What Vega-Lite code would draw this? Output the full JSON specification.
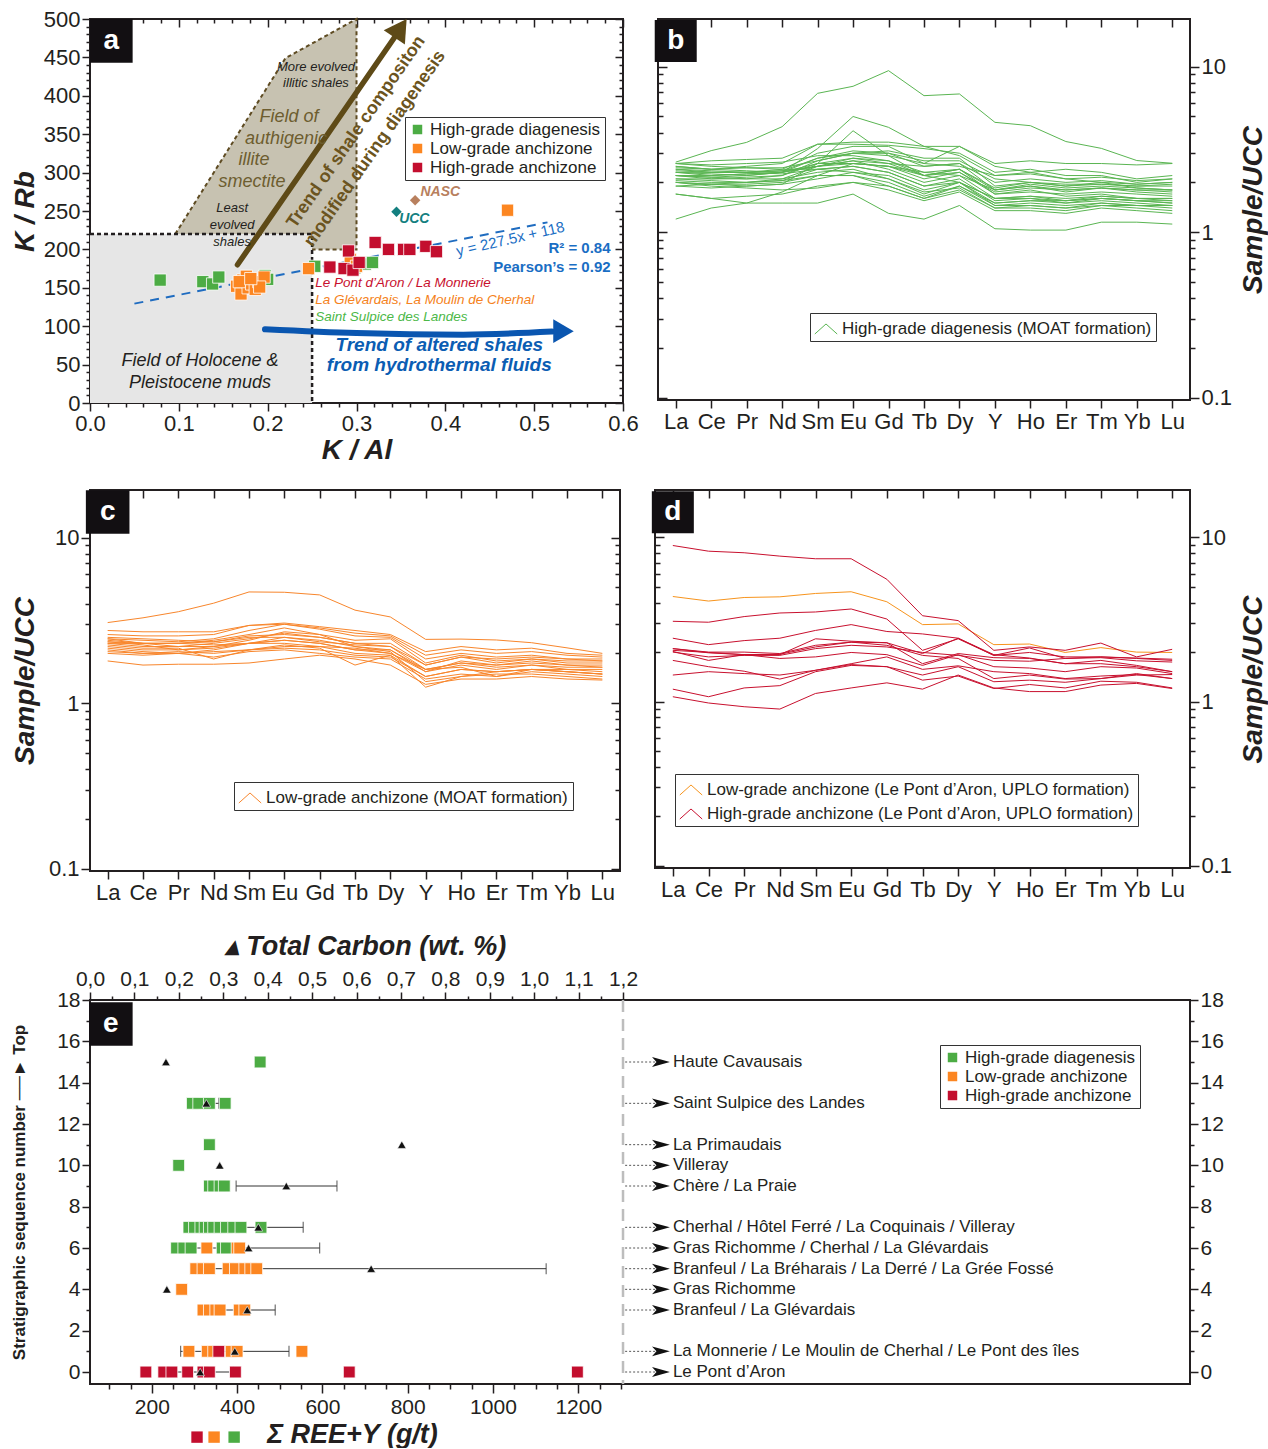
{
"$schema":"https://vega.github.io/schema/vega-lite/v6.json",
"padding":{"left":9,"top":7,"right":0,"bottom":0},
"background":"white",
"config":{"font":"Liberation Sans","view":{"stroke":"#231f20","strokeWidth":2},
"axis":{"domain":false,"grid":false,"labelFontSize":22,"labelColor":"#231f20","tickColor":"#231f20","tickWidth":1.5,"titleColor":"#231f20","labelFlush":false,"labelOverlap":false,"labelFont":"Liberation Sans","titleFont":"Liberation Sans"},
"legend":{"labelFont":"Liberation Sans","labelColor":"#231f20","labelFontSize":17,"strokeColor":"#333","fillColor":"white","padding":4,"title":null,"labelLimit":600},
"text":{"font":"Liberation Sans"}},
"spacing":27,
"resolve":{"scale":{"color":"independent"}},
"vconcat":[
{"vconcat":[
{"hconcat":[
{"width":533,"height":384,
"resolve":{"axis":{"x":"independent","y":"independent"},"scale":{"color":"independent"}},
"layer":[
{"data":{"values":[{"x":0.096,"y":220,"y2":200},{"x":0.22,"y":449,"y2":200},{"x":0.3,"y":500,"y2":200}]},
"mark":{"type":"area","color":"#c7c2b1","opacity":1},
"encoding":{"x":{"field":"x","type":"quantitative","scale":{"domain":[0,0.6],"nice":false,"zero":false},"axis":null},"y":{"field":"y","type":"quantitative","scale":{"domain":[0,500],"nice":false,"zero":false},"axis":null},"y2":{"field":"y2"}}},
{"data":{"values":[{"x":0,"x2":0.25,"y":0,"y2":220}]},
"mark":{"type":"rect","color":"#e6e6e6","opacity":1},
"encoding":{"x":{"field":"x","type":"quantitative","scale":{"domain":[0,0.6],"nice":false,"zero":false},"axis":null},"x2":{"field":"x2"},"y":{"field":"y","type":"quantitative","scale":{"domain":[0,500],"nice":false,"zero":false},"axis":null},"y2":{"field":"y2"}}},
{"data":{"values":[{"o":1,"x":0.096,"y":220},{"o":2,"x":0.22,"y":449},{"o":3,"x":0.3,"y":500},{"o":4,"x":0.3,"y":200},{"o":5,"x":0.25,"y":200}]},
"mark":{"type":"line","color":"#5e4b22","strokeDash":[4,3],"strokeWidth":2},
"encoding":{"x":{"field":"x","type":"quantitative","scale":{"domain":[0,0.6],"nice":false,"zero":false},"axis":null},"y":{"field":"y","type":"quantitative","scale":{"domain":[0,500],"nice":false,"zero":false},"axis":null},"order":{"field":"o"}}},
{"data":{"values":[{"o":1,"x":0,"y":220},{"o":2,"x":0.25,"y":220},{"o":3,"x":0.25,"y":0}]},
"mark":{"type":"line","color":"#231f20","strokeDash":[4,3],"strokeWidth":2.5},
"encoding":{"x":{"field":"x","type":"quantitative","scale":{"domain":[0,0.6],"nice":false,"zero":false},"axis":null},"y":{"field":"y","type":"quantitative","scale":{"domain":[0,500],"nice":false,"zero":false},"axis":null},"order":{"field":"o"}}},
{"data":{"values":[{"x":0.05,"y":129.4},{"x":0.515,"y":235.2}]},
"mark":{"type":"line","color":"#1f6cc0","strokeDash":[9,7],"strokeWidth":2},
"encoding":{"x":{"field":"x","type":"quantitative","scale":{"domain":[0,0.6],"nice":false,"zero":false},"axis":null},"y":{"field":"y","type":"quantitative","scale":{"domain":[0,500],"nice":false,"zero":false},"axis":null}}},
{"data":{"values":[{"x":0.166,"y":180},{"x":0.347,"y":483}]},
"mark":{"type":"line","color":"#5e4a17","strokeWidth":5.5,"strokeCap":"round"},
"encoding":{"x":{"field":"x","type":"quantitative","scale":{"domain":[0,0.6],"nice":false,"zero":false},"axis":null},"y":{"field":"y","type":"quantitative","scale":{"domain":[0,500],"nice":false,"zero":false},"axis":null}}},
{"data":{"values":[{"x":0.3495,"y":488}]},
"mark":{"type":"point","shape":"triangle-up","filled":true,"opacity":1,"size":650,"color":"#5e4a17","angle":34},
"encoding":{"x":{"field":"x","type":"quantitative","scale":{"domain":[0,0.6],"nice":false,"zero":false},"axis":null},"y":{"field":"y","type":"quantitative","scale":{"domain":[0,500],"nice":false,"zero":false},"axis":null}}},
{"data":{"values":[{"o":1,"x":0.197,"y":96},{"o":2,"x":0.3,"y":91},{"o":3,"x":0.42,"y":89},{"o":4,"x":0.52,"y":93}]},
"mark":{"type":"line","color":"#0a56b0","strokeWidth":6,"interpolate":"monotone","strokeCap":"round"},
"encoding":{"x":{"field":"x","type":"quantitative","scale":{"domain":[0,0.6],"nice":false,"zero":false},"axis":null},"y":{"field":"y","type":"quantitative","scale":{"domain":[0,500],"nice":false,"zero":false},"axis":null},"order":{"field":"o"}}},
{"data":{"values":[{"x":0.533,"y":93.5}]},
"mark":{"type":"point","shape":"triangle-right","filled":true,"opacity":1,"size":560,"color":"#0a56b0"},
"encoding":{"x":{"field":"x","type":"quantitative","scale":{"domain":[0,0.6],"nice":false,"zero":false},"axis":null},"y":{"field":"y","type":"quantitative","scale":{"domain":[0,500],"nice":false,"zero":false},"axis":null}}},
{"data":{"values":[
{"x":0.079,"y":160,"g":"G"},{"x":0.127,"y":158,"g":"G"},{"x":0.138,"y":155,"g":"G"},{"x":0.145,"y":164,"g":"G"},{"x":0.18,"y":161,"g":"G"},{"x":0.19,"y":158,"g":"G"},{"x":0.197,"y":166,"g":"G"},{"x":0.2,"y":161,"g":"G"},{"x":0.185,"y":157,"g":"G"},{"x":0.253,"y":178,"g":"G"},{"x":0.31,"y":181,"g":"G"},{"x":0.318,"y":183,"g":"G"},{"x":0.298,"y":176,"g":"G"},
{"x":0.165,"y":152,"g":"O"},{"x":0.17,"y":142,"g":"O"},{"x":0.172,"y":160,"g":"O"},{"x":0.176,"y":165,"g":"O"},{"x":0.178,"y":150,"g":"O"},{"x":0.182,"y":155,"g":"O"},{"x":0.186,"y":148,"g":"O"},{"x":0.19,"y":158,"g":"O"},{"x":0.196,"y":164,"g":"O"},{"x":0.191,"y":151,"g":"O"},{"x":0.168,"y":158,"g":"O"},{"x":0.181,"y":162,"g":"O"},{"x":0.246,"y":175,"g":"O"},{"x":0.293,"y":187,"g":"O"},{"x":0.3,"y":178,"g":"O"},{"x":0.47,"y":251,"g":"O"},
{"x":0.27,"y":177,"g":"R"},{"x":0.286,"y":175,"g":"R"},{"x":0.296,"y":173,"g":"R"},{"x":0.291,"y":198,"g":"R"},{"x":0.303,"y":183,"g":"R"},{"x":0.321,"y":209,"g":"R"},{"x":0.336,"y":200,"g":"R"},{"x":0.353,"y":200,"g":"R"},{"x":0.36,"y":200,"g":"R"},{"x":0.378,"y":204,"g":"R"},{"x":0.39,"y":197,"g":"R"}]},
"mark":{"type":"square","size":150,"filled":true,"opacity":1,"stroke":"white","strokeWidth":0.8},
"encoding":{
"x":{"field":"x","type":"quantitative","scale":{"domain":[0,0.6],"nice":false,"zero":false},"axis":{"orient":"bottom","values":[0,0.02,0.04,0.06,0.08,0.1,0.12,0.14,0.16,0.18,0.2,0.22,0.24,0.26,0.28,0.3,0.32,0.34,0.36,0.38,0.4,0.42,0.44,0.46,0.48,0.5,0.52,0.54,0.56,0.58,0.6],"labelExpr":"round(datum.value*50)%5===0 ? format(datum.value,'.1f') : ''","tickSize":{"condition":{"test":"round(datum.value*50)%5===0","value":8},"value":4},"labelPadding":2,"title":"K / Al","titleFontSize":28,"titleFontWeight":"bold","titleFontStyle":"italic","titlePadding":2}},
"y":{"field":"y","type":"quantitative","scale":{"domain":[0,500],"nice":false,"zero":false},"axis":{"orient":"left","values":[0,10,20,30,40,50,60,70,80,90,100,110,120,130,140,150,160,170,180,190,200,210,220,230,240,250,260,270,280,290,300,310,320,330,340,350,360,370,380,390,400,410,420,430,440,450,460,470,480,490,500],"labelExpr":"datum.value%50===0 ? datum.label : ''","format":"d","tickSize":{"condition":{"test":"datum.value%50===0","value":8},"value":4},"labelPadding":2,"title":"K / Rb","titleFontSize":28,"titleFontWeight":"bold","titleFontStyle":"italic","titlePadding":4}},
"color":{"field":"g","type":"nominal","scale":{"domain":["G","O","R"],"range":["#4cac44","#fc8621","#c30e2e"]},"legend":{"orient":"none","legendX":315,"legendY":98,"symbolType":"square","symbolSize":120,"labelFontSize":17,"rowPadding":1,"labelExpr":"datum.label=='G' ? 'High-grade diagenesis' : datum.label=='O' ? 'Low-grade anchizone' : 'High-grade anchizone'"}}}},
{"data":{"values":[{"x":0.366,"y":264,"n":"NASC"},{"x":0.345,"y":249,"n":"UCC"}]},
"mark":{"type":"point","shape":"diamond","filled":true,"opacity":1,"size":110},
"encoding":{"x":{"field":"x","type":"quantitative","scale":{"domain":[0,0.6],"nice":false,"zero":false},"axis":null},"y":{"field":"y","type":"quantitative","scale":{"domain":[0,500],"nice":false,"zero":false},"axis":null},"color":{"field":"n","type":"nominal","scale":{"domain":["NASC","UCC"],"range":["#b8805e","#137f7f"]},"legend":null}}},
{"data":{"values":[{"x":0.372,"y":275,"n":"NASC"},{"x":0.348,"y":239.6,"n":"UCC"}]},
"mark":{"type":"text","align":"left","baseline":"middle","fontSize":14,"fontWeight":"bold","fontStyle":"italic"},
"encoding":{"x":{"field":"x","type":"quantitative","scale":{"domain":[0,0.6],"nice":false,"zero":false},"axis":null},"y":{"field":"y","type":"quantitative","scale":{"domain":[0,500],"nice":false,"zero":false},"axis":null},"text":{"field":"n"},"color":{"field":"n","type":"nominal","scale":{"domain":["NASC","UCC"],"range":["#b8805e","#137f7f"]},"legend":null}}},
{"data":{"values":[{"x":0.2535,"y":156,"t":"Le Pont d’Aron / La Monnerie","g":"R"},{"x":0.2535,"y":134,"t":"La Glévardais, La Moulin de Cherhal","g":"O"},{"x":0.2535,"y":112,"t":"Saint Sulpice des Landes","g":"G"}]},
"mark":{"type":"text","align":"left","baseline":"middle","fontSize":13.5,"fontStyle":"italic","font":"Liberation Sans Narrow, Liberation Sans"},
"encoding":{"x":{"field":"x","type":"quantitative","scale":{"domain":[0,0.6],"nice":false,"zero":false},"axis":null},"y":{"field":"y","type":"quantitative","scale":{"domain":[0,500],"nice":false,"zero":false},"axis":null},"text":{"field":"t"},"color":{"field":"g","type":"nominal","scale":{"domain":["G","O","R"],"range":["#4cb848","#f58220","#c8102e"]},"legend":null}}},
{"data":{"values":[{"x":0.2544,"y":437.5,"t":"More evolved"},{"x":0.2544,"y":416.7,"t":"illitic shales"},{"x":0.16,"y":254,"t":"Least"},{"x":0.16,"y":232,"t":"evolved"},{"x":0.16,"y":210,"t":"shales"}]},
"mark":{"type":"text","align":"center","baseline":"middle","fontSize":13,"fontStyle":"italic","color":"#231f20","font":"Liberation Sans Narrow, Liberation Sans"},
"encoding":{"x":{"field":"x","type":"quantitative","scale":{"domain":[0,0.6],"nice":false,"zero":false},"axis":null},"y":{"field":"y","type":"quantitative","scale":{"domain":[0,500],"nice":false,"zero":false},"axis":null},"text":{"field":"t"}}},
{"data":{"values":[{"x":0.224,"y":372,"t":"Field of"},{"x":0.2206,"y":344,"t":"authigenic"},{"x":0.1846,"y":316,"t":"illite"},{"x":0.1824,"y":288,"t":"smectite"}]},
"mark":{"type":"text","align":"center","baseline":"middle","fontSize":18,"fontStyle":"italic","color":"#6d5d2f","font":"Liberation Sans Narrow, Liberation Sans"},
"encoding":{"x":{"field":"x","type":"quantitative","scale":{"domain":[0,0.6],"nice":false,"zero":false},"axis":null},"y":{"field":"y","type":"quantitative","scale":{"domain":[0,500],"nice":false,"zero":false},"axis":null},"text":{"field":"t"}}},
{"data":{"values":[{"x":0.1238,"y":55,"t":"Field of Holocene &"},{"x":0.1238,"y":26,"t":"Pleistocene muds"}]},
"mark":{"type":"text","align":"center","baseline":"middle","fontSize":18,"fontStyle":"italic","color":"#231f20","font":"Liberation Sans Narrow, Liberation Sans"},
"encoding":{"x":{"field":"x","type":"quantitative","scale":{"domain":[0,0.6],"nice":false,"zero":false},"axis":null},"y":{"field":"y","type":"quantitative","scale":{"domain":[0,500],"nice":false,"zero":false},"axis":null},"text":{"field":"t"}}},
{"data":{"values":[{"x":0.2997,"y":353,"t":"Trend of  shale compositon"},{"x":0.3208,"y":331,"t":"modified during diagenesis"}]},
"mark":{"type":"text","align":"center","baseline":"middle","fontSize":18,"fontWeight":"bold","color":"#6b5420","angle":304.7,"font":"Liberation Sans Narrow, Liberation Sans"},
"encoding":{"x":{"field":"x","type":"quantitative","scale":{"domain":[0,0.6],"nice":false,"zero":false},"axis":null},"y":{"field":"y","type":"quantitative","scale":{"domain":[0,500],"nice":false,"zero":false},"axis":null},"text":{"field":"t"}}},
{"data":{"values":[{"x":0.4732,"y":213.5,"t":"y = 227.5x + 118"}]},
"mark":{"type":"text","align":"center","baseline":"middle","fontSize":15,"color":"#1a6ec4","angle":347},
"encoding":{"x":{"field":"x","type":"quantitative","scale":{"domain":[0,0.6],"nice":false,"zero":false},"axis":null},"y":{"field":"y","type":"quantitative","scale":{"domain":[0,500],"nice":false,"zero":false},"axis":null},"text":{"field":"t"}}},
{"data":{"values":[{"x":0.586,"y":202,"t":"R² = 0.84"},{"x":0.586,"y":177,"t":"Pearson’s = 0.92"}]},
"mark":{"type":"text","align":"right","baseline":"middle","fontSize":15,"fontWeight":"bold","color":"#1a6ec4"},
"encoding":{"x":{"field":"x","type":"quantitative","scale":{"domain":[0,0.6],"nice":false,"zero":false},"axis":null},"y":{"field":"y","type":"quantitative","scale":{"domain":[0,500],"nice":false,"zero":false},"axis":null},"text":{"field":"t"}}},
{"data":{"values":[{"x":0.3932,"y":75.5,"t":"Trend of  altered shales"},{"x":0.3932,"y":49.5,"t":"from hydrothermal fluids"}]},
"mark":{"type":"text","align":"center","baseline":"middle","fontSize":19,"fontWeight":"bold","fontStyle":"italic","color":"#0b5db3","font":"Liberation Sans Narrow, Liberation Sans"},
"encoding":{"x":{"field":"x","type":"quantitative","scale":{"domain":[0,0.6],"nice":false,"zero":false},"axis":null},"y":{"field":"y","type":"quantitative","scale":{"domain":[0,500],"nice":false,"zero":false},"axis":null},"text":{"field":"t"}}},
{"data":{"values":[{"x":0,"x2":0.048,"y":443,"y2":500}]},
"mark":{"type":"rect","color":"#120f12","opacity":1},
"encoding":{"x":{"field":"x","type":"quantitative","scale":{"domain":[0,0.6],"nice":false,"zero":false},"axis":null},"x2":{"field":"x2"},"y":{"field":"y","type":"quantitative","scale":{"domain":[0,500],"nice":false,"zero":false},"axis":null},"y2":{"field":"y2"}}},
{"data":{"values":[{"x":0.024,"y":471,"t":"a"}]},
"mark":{"type":"text","align":"center","baseline":"middle","fontSize":28,"fontWeight":"bold","color":"white"},
"encoding":{"x":{"field":"x","type":"quantitative","scale":{"domain":[0,0.6],"nice":false,"zero":false},"axis":null},"y":{"field":"y","type":"quantitative","scale":{"domain":[0,500],"nice":false,"zero":false},"axis":null},"text":{"field":"t"}}},
{"data":{"values":[{"x":0,"y":0}]},
"mark":{"type":"point","opacity":0},
"encoding":{"x":{"field":"x","type":"quantitative","scale":{"domain":[0,0.6],"nice":false,"zero":false},"axis":{"orient":"top","title":null,"labels":false,"values":[0,0.02,0.04,0.06,0.08,0.1,0.12,0.14,0.16,0.18,0.2,0.22,0.24,0.26,0.28,0.3,0.32,0.34,0.36,0.38,0.4,0.42,0.44,0.46,0.48,0.5,0.52,0.54,0.56,0.58,0.6],"tickSize":{"condition":{"test":"round(datum.value*50)%5===0","value":-8},"value":-4}}},
"y":{"field":"y","type":"quantitative","scale":{"domain":[0,500],"nice":false,"zero":false},"axis":{"orient":"right","title":null,"labels":false,"values":[0,10,20,30,40,50,60,70,80,90,100,110,120,130,140,150,160,170,180,190,200,210,220,230,240,250,260,270,280,290,300,310,320,330,340,350,360,370,380,390,400,410,420,430,440,450,460,470,480,490,500],"tickSize":{"condition":{"test":"datum.value%50===0","value":-8},"value":-4}}}}}
]},
{"width":532,"height":381,
"resolve":{"axis":{"x":"independent","y":"independent"}},
"layer":[
{"data":{"values":[
{"s":"b1","La":2.65,"Ce":3.11,"Pr":3.49,"Nd":4.34,"Sm":6.9,"Eu":7.61,"Gd":9.46,"Tb":6.68,"Dy":6.84,"Y":4.61,"Ho":4.4,"Er":3.53,"Tm":3.21,"Yb":2.71,"Lu":2.61},
{"s":"b2","La":2.2,"Ce":2.15,"Pr":2.2,"Nd":2.3,"Sm":3.2,"Eu":5.0,"Gd":4.3,"Tb":3.3,"Dy":2.9,"Y":2.2,"Ho":2.25,"Er":2.1,"Tm":2.15,"Yb":2.05,"Lu":2.1},
{"s":"b3","La":2.0,"Ce":1.95,"Pr":1.9,"Nd":1.95,"Sm":2.6,"Eu":4.1,"Gd":2.9,"Tb":2.2,"Dy":2.0,"Y":1.6,"Ho":1.6,"Er":1.55,"Tm":1.6,"Yb":1.55,"Lu":1.5},
{"s":"b4","La":2.6,"Ce":2.7,"Pr":2.75,"Nd":2.8,"Sm":3.4,"Eu":3.4,"Gd":3.35,"Tb":3.2,"Dy":3.0,"Y":2.3,"Ho":2.4,"Er":2.2,"Tm":2.2,"Yb":2.0,"Lu":2.1},
{"s":"b5","La":2.5,"Ce":2.4,"Pr":2.5,"Nd":2.6,"Sm":3.4,"Eu":3.5,"Gd":3.5,"Tb":3.3,"Dy":3.3,"Y":2.6,"Ho":2.7,"Er":2.6,"Tm":2.6,"Yb":2.55,"Lu":2.6},
{"s":"b6","La":2.4,"Ce":2.3,"Pr":2.3,"Nd":2.4,"Sm":3.0,"Eu":3.3,"Gd":3.3,"Tb":2.6,"Dy":3.3,"Y":2.5,"Ho":2.3,"Er":2.4,"Tm":2.3,"Yb":2.1,"Lu":2.2},
{"s":"b7","La":2.6,"Ce":2.5,"Pr":2.45,"Nd":2.45,"Sm":2.7,"Eu":3.0,"Gd":3.1,"Tb":2.8,"Dy":2.8,"Y":1.9,"Ho":2.0,"Er":1.9,"Tm":2.0,"Yb":1.85,"Lu":1.8},
{"s":"b8","La":2.3,"Ce":2.25,"Pr":2.2,"Nd":2.3,"Sm":2.8,"Eu":3.0,"Gd":3.0,"Tb":2.5,"Dy":2.6,"Y":1.8,"Ho":1.9,"Er":1.75,"Tm":1.85,"Yb":1.8,"Lu":1.75},
{"s":"b9","La":2.2,"Ce":2.1,"Pr":2.1,"Nd":2.2,"Sm":2.6,"Eu":2.8,"Gd":2.7,"Tb":2.2,"Dy":2.4,"Y":1.7,"Ho":1.75,"Er":1.7,"Tm":1.75,"Yb":1.7,"Lu":1.65},
{"s":"b10","La":2.1,"Ce":2.05,"Pr":2.0,"Nd":2.1,"Sm":2.5,"Eu":2.7,"Gd":2.4,"Tb":2.0,"Dy":2.2,"Y":1.6,"Ho":1.65,"Er":1.55,"Tm":1.65,"Yb":1.6,"Lu":1.55},
{"s":"b11","La":2.3,"Ce":2.2,"Pr":2.25,"Nd":2.3,"Sm":2.6,"Eu":2.6,"Gd":2.5,"Tb":2.1,"Dy":2.3,"Y":1.75,"Ho":1.85,"Er":1.8,"Tm":1.85,"Yb":1.75,"Lu":1.7},
{"s":"b12","La":2.05,"Ce":2.0,"Pr":2.0,"Nd":2.05,"Sm":2.4,"Eu":2.5,"Gd":2.3,"Tb":1.9,"Dy":2.1,"Y":1.55,"Ho":1.6,"Er":1.5,"Tm":1.6,"Yb":1.55,"Lu":1.5},
{"s":"b13","La":2.2,"Ce":2.15,"Pr":2.1,"Nd":2.1,"Sm":2.3,"Eu":2.4,"Gd":2.1,"Tb":1.7,"Dy":2.0,"Y":1.45,"Ho":1.5,"Er":1.45,"Tm":1.5,"Yb":1.45,"Lu":1.45},
{"s":"b14","La":2.0,"Ce":1.95,"Pr":1.95,"Nd":2.0,"Sm":2.2,"Eu":2.2,"Gd":2.0,"Tb":1.65,"Dy":1.9,"Y":1.45,"Ho":1.45,"Er":1.4,"Tm":1.5,"Yb":1.45,"Lu":1.4},
{"s":"b15","La":2.4,"Ce":2.35,"Pr":2.3,"Nd":2.35,"Sm":2.5,"Eu":2.6,"Gd":2.5,"Tb":2.2,"Dy":2.4,"Y":1.8,"Ho":1.95,"Er":1.85,"Tm":1.9,"Yb":1.85,"Lu":1.8},
{"s":"b16","La":2.3,"Ce":2.3,"Pr":2.3,"Nd":2.35,"Sm":2.8,"Eu":3.1,"Gd":3.0,"Tb":2.7,"Dy":2.7,"Y":2.1,"Ho":2.0,"Er":1.95,"Tm":1.95,"Yb":1.9,"Lu":1.9},
{"s":"b17","La":1.9,"Ce":1.85,"Pr":1.9,"Nd":1.95,"Sm":2.1,"Eu":2.3,"Gd":2.1,"Tb":1.75,"Dy":1.85,"Y":1.4,"Ho":1.4,"Er":1.35,"Tm":1.45,"Yb":1.4,"Lu":1.35},
{"s":"b18","La":1.7,"Ce":1.6,"Pr":1.65,"Nd":1.7,"Sm":1.9,"Eu":2.0,"Gd":1.8,"Tb":1.55,"Dy":1.75,"Y":1.35,"Ho":1.35,"Er":1.3,"Tm":1.4,"Yb":1.35,"Lu":1.3},
{"s":"b19","La":1.7,"Ce":1.6,"Pr":1.5,"Nd":1.5,"Sm":1.5,"Eu":1.7,"Gd":1.3,"Tb":1.2,"Dy":1.45,"Y":1.05,"Ho":1.03,"Er":1.03,"Tm":1.15,"Yb":1.15,"Lu":1.12},
{"s":"b20","La":1.2,"Ce":1.4,"Pr":1.5,"Nd":1.75,"Sm":2.2,"Eu":2.6,"Gd":2.5,"Tb":2.3,"Dy":2.2,"Y":1.8,"Ho":1.9,"Er":1.8,"Tm":1.85,"Yb":1.8,"Lu":1.8},
{"s":"b21","La":2.45,"Ce":2.4,"Pr":2.45,"Nd":2.4,"Sm":2.4,"Eu":2.5,"Gd":2.3,"Tb":1.9,"Dy":2.0,"Y":1.6,"Ho":1.65,"Er":1.6,"Tm":1.65,"Yb":1.6,"Lu":1.6},
{"s":"b22","La":2.6,"Ce":2.55,"Pr":2.6,"Nd":2.65,"Sm":2.9,"Eu":2.9,"Gd":2.7,"Tb":2.3,"Dy":2.4,"Y":1.85,"Ho":2.0,"Er":1.9,"Tm":1.95,"Yb":1.9,"Lu":1.95},
{"s":"b23","La":2.2,"Ce":2.2,"Pr":2.25,"Nd":2.3,"Sm":2.5,"Eu":2.8,"Gd":2.6,"Tb":2.2,"Dy":2.3,"Y":1.7,"Ho":1.8,"Er":1.65,"Tm":1.7,"Yb":1.6,"Lu":1.6},
{"s":"b24","La":2.0,"Ce":1.9,"Pr":1.85,"Nd":1.8,"Sm":1.85,"Eu":2.0,"Gd":1.9,"Tb":1.6,"Dy":1.8,"Y":1.4,"Ho":1.45,"Er":1.4,"Tm":1.45,"Yb":1.45,"Lu":1.45},
{"s":"b25","La":2.35,"Ce":2.3,"Pr":2.3,"Nd":2.25,"Sm":2.4,"Eu":2.3,"Gd":2.2,"Tb":1.8,"Dy":2.0,"Y":1.5,"Ho":1.55,"Er":1.55,"Tm":1.6,"Yb":1.55,"Lu":1.55},
{"s":"b26","La":2.1,"Ce":2.1,"Pr":2.15,"Nd":2.2,"Sm":2.7,"Eu":3.0,"Gd":2.9,"Tb":2.6,"Dy":2.5,"Y":2.2,"Ho":2.3,"Er":2.1,"Tm":2.0,"Yb":1.95,"Lu":2.0},
{"s":"b27","La":2.5,"Ce":2.4,"Pr":2.35,"Nd":2.3,"Sm":2.5,"Eu":2.7,"Gd":2.6,"Tb":2.5,"Dy":2.6,"Y":2.0,"Ho":2.1,"Er":2.0,"Tm":2.05,"Yb":1.95,"Lu":2.0},
{"s":"b28","La":1.9,"Ce":1.95,"Pr":2.0,"Nd":2.05,"Sm":2.2,"Eu":2.2,"Gd":1.9,"Tb":1.6,"Dy":1.9,"Y":1.5,"Ho":1.55,"Er":1.5,"Tm":1.55,"Yb":1.5,"Lu":1.45}]},
"transform":[{"fold":["La","Ce","Pr","Nd","Sm","Eu","Gd","Tb","Dy","Y","Ho","Er","Tm","Yb","Lu"],"as":["el","v"]}],
"mark":{"type":"line","strokeWidth":1},
"encoding":{
"x":{"field":"el","type":"ordinal","sort":["La","Ce","Pr","Nd","Sm","Eu","Gd","Tb","Dy","Y","Ho","Er","Tm","Yb","Lu"],"scale":{"type":"point","padding":0.5,"domain":["La","Ce","Pr","Nd","Sm","Eu","Gd","Tb","Dy","Y","Ho","Er","Tm","Yb","Lu"]},"axis":{"orient":"bottom","title":null,"labelAngle":0,"tickSize":8,"labelPadding":3}},
"y":{"field":"v","type":"quantitative","scale":{"type":"log","domain":[0.097,19.4],"nice":false},"axis":{"orient":"right","values":[0.1,0.2,0.3,0.4,0.5,0.6,0.7,0.8,0.9,1,2,3,4,5,6,7,8,9,10],"format":"~g","labelExpr":"datum.value===0.1||datum.value===1||datum.value===10 ? datum.label : ''","tickSize":{"condition":{"test":"datum.value===0.1||datum.value===1||datum.value===10","value":9},"value":5},"labelPadding":2,"title":"Sample/UCC","titleFontSize":28,"titleFontWeight":"bold","titleFontStyle":"italic","titleAngle":270,"titleBaseline":"top","titlePadding":8}},
"detail":{"field":"s"},
"color":{"datum":"High-grade diagenesis (MOAT formation)","scale":{"range":["#5ab552"]},"legend":{"orient":"none","legendX":152,"legendY":294,"symbolType":"M-1,0.45L0,-0.45L1,0.45","symbolSize":500,"symbolStrokeWidth":1,"symbolFillColor":"transparent"}}}},
{"data":{"values":[{"el":"La","v":1}]},"mark":{"type":"point","opacity":0},
"encoding":{"x":{"field":"el","type":"ordinal","scale":{"type":"point","padding":0.5,"domain":["La","Ce","Pr","Nd","Sm","Eu","Gd","Tb","Dy","Y","Ho","Er","Tm","Yb","Lu"]},"axis":{"orient":"top","title":null,"labels":false,"tickSize":-8}},
"y":{"field":"v","type":"quantitative","scale":{"type":"log","domain":[0.097,19.4],"nice":false},"axis":{"orient":"left","title":null,"labels":false,"values":[0.1,0.2,0.3,0.4,0.5,0.6,0.7,0.8,0.9,1,2,3,4,5,6,7,8,9,10],"tickSize":{"condition":{"test":"datum.value===0.1||datum.value===1||datum.value===10","value":-9},"value":-5}}}}},
{"data":{"values":[{"el":"La","v":14.3,"t":"b"}]},"mark":{"type":"square","size":1764,"color":"#120f12","opacity":1},
"encoding":{"x":{"field":"el","type":"ordinal","scale":{"type":"point","padding":0.5,"domain":["La","Ce","Pr","Nd","Sm","Eu","Gd","Tb","Dy","Y","Ho","Er","Tm","Yb","Lu"]},"axis":null},"y":{"field":"v","type":"quantitative","scale":{"type":"log","domain":[0.097,19.4],"nice":false},"axis":null}}},
{"data":{"values":[{"el":"La","v":14.3,"t":"b"}]},"mark":{"type":"text","color":"white","fontSize":28,"fontWeight":"bold","baseline":"middle","align":"center"},
"encoding":{"x":{"field":"el","type":"ordinal","scale":{"type":"point","padding":0.5,"domain":["La","Ce","Pr","Nd","Sm","Eu","Gd","Tb","Dy","Y","Ho","Er","Tm","Yb","Lu"]},"axis":null},"y":{"field":"v","type":"quantitative","scale":{"type":"log","domain":[0.097,19.4],"nice":false},"axis":null},"text":{"field":"t"}}}
]}
],"spacing":35,"bounds":"flush","resolve":{"scale":{"color":"independent"}}},
{"hconcat":[
{"width":530,"height":381,
"resolve":{"axis":{"x":"independent","y":"independent"}},
"layer":[
{"data":{"values":[
{"s":"c1","La":3.07,"Ce":3.28,"Pr":3.57,"Nd":4.02,"Sm":4.7,"Eu":4.68,"Gd":4.51,"Tb":3.65,"Dy":3.32,"Y":2.43,"Ho":2.44,"Er":2.41,"Tm":2.32,"Yb":2.16,"Lu":2.0},
{"s":"c2","La":2.75,"Ce":2.7,"Pr":2.7,"Nd":2.7,"Sm":2.95,"Eu":3.05,"Gd":2.9,"Tb":2.75,"Dy":2.6,"Y":2.05,"Ho":2.2,"Er":2.1,"Tm":2.15,"Yb":2.0,"Lu":1.95},
{"s":"c3","La":2.6,"Ce":2.55,"Pr":2.55,"Nd":2.6,"Sm":2.95,"Eu":3.0,"Gd":2.85,"Tb":2.65,"Dy":2.55,"Y":1.95,"Ho":2.1,"Er":2.0,"Tm":2.05,"Yb":1.95,"Lu":1.9},
{"s":"c4","La":2.45,"Ce":2.4,"Pr":2.35,"Nd":2.45,"Sm":2.75,"Eu":3.0,"Gd":2.8,"Tb":2.55,"Dy":2.5,"Y":1.85,"Ho":2.0,"Er":1.9,"Tm":1.95,"Yb":1.85,"Lu":1.85},
{"s":"c5","La":2.4,"Ce":2.3,"Pr":2.3,"Nd":2.4,"Sm":2.6,"Eu":2.85,"Gd":2.6,"Tb":2.4,"Dy":2.45,"Y":1.75,"Ho":1.95,"Er":1.8,"Tm":1.85,"Yb":1.8,"Lu":1.8},
{"s":"c6","La":2.3,"Ce":2.2,"Pr":2.2,"Nd":2.3,"Sm":2.45,"Eu":2.65,"Gd":2.5,"Tb":2.3,"Dy":2.3,"Y":1.7,"Ho":1.9,"Er":1.75,"Tm":1.85,"Yb":1.75,"Lu":1.75},
{"s":"c7","La":2.35,"Ce":2.25,"Pr":2.1,"Nd":2.15,"Sm":2.3,"Eu":2.3,"Gd":2.2,"Tb":2.15,"Dy":2.0,"Y":1.6,"Ho":1.75,"Er":1.7,"Tm":1.75,"Yb":1.7,"Lu":1.7},
{"s":"c8","La":2.2,"Ce":2.1,"Pr":2.1,"Nd":2.2,"Sm":2.3,"Eu":2.4,"Gd":2.3,"Tb":2.1,"Dy":2.1,"Y":1.55,"Ho":1.8,"Er":1.7,"Tm":1.8,"Yb":1.7,"Lu":1.65},
{"s":"c9","La":2.1,"Ce":2.0,"Pr":2.05,"Nd":2.0,"Sm":2.1,"Eu":2.15,"Gd":2.1,"Tb":1.95,"Dy":1.9,"Y":1.45,"Ho":1.6,"Er":1.55,"Tm":1.6,"Yb":1.55,"Lu":1.5},
{"s":"c10","La":2.05,"Ce":2.0,"Pr":2.0,"Nd":1.9,"Sm":2.05,"Eu":2.1,"Gd":2.0,"Tb":1.9,"Dy":1.85,"Y":1.4,"Ho":1.5,"Er":1.45,"Tm":1.55,"Yb":1.5,"Lu":1.45},
{"s":"c11","La":1.8,"Ce":1.7,"Pr":1.72,"Nd":1.72,"Sm":1.75,"Eu":1.85,"Gd":1.95,"Tb":1.85,"Dy":1.7,"Y":1.3,"Ho":1.4,"Er":1.4,"Tm":1.45,"Yb":1.4,"Lu":1.38},
{"s":"c12","La":2.5,"Ce":2.45,"Pr":2.4,"Nd":2.35,"Sm":2.55,"Eu":2.6,"Gd":2.5,"Tb":2.3,"Dy":2.2,"Y":1.6,"Ho":1.65,"Er":1.45,"Tm":1.6,"Yb":1.55,"Lu":1.5},
{"s":"c13","La":2.25,"Ce":2.15,"Pr":2.15,"Nd":1.85,"Sm":2.1,"Eu":2.25,"Gd":2.15,"Tb":1.7,"Dy":1.95,"Y":1.25,"Ho":1.45,"Er":1.55,"Tm":1.6,"Yb":1.55,"Lu":1.5},
{"s":"c14","La":2.35,"Ce":2.3,"Pr":2.3,"Nd":2.35,"Sm":2.5,"Eu":2.5,"Gd":2.35,"Tb":2.25,"Dy":2.2,"Y":1.7,"Ho":1.9,"Er":1.85,"Tm":1.9,"Yb":1.85,"Lu":1.8},
{"s":"c15","La":2.15,"Ce":2.05,"Pr":2.0,"Nd":2.05,"Sm":2.1,"Eu":2.2,"Gd":2.2,"Tb":2.0,"Dy":1.95,"Y":1.45,"Ho":1.6,"Er":1.55,"Tm":1.6,"Yb":1.6,"Lu":1.55},
{"s":"c16","La":2.3,"Ce":2.3,"Pr":2.2,"Nd":2.2,"Sm":2.4,"Eu":2.7,"Gd":2.6,"Tb":2.2,"Dy":2.1,"Y":1.6,"Ho":1.75,"Er":1.65,"Tm":1.7,"Yb":1.6,"Lu":1.6},
{"s":"c17","La":2.45,"Ce":2.3,"Pr":2.3,"Nd":2.25,"Sm":2.3,"Eu":2.5,"Gd":2.4,"Tb":2.2,"Dy":2.05,"Y":1.35,"Ho":1.45,"Er":1.5,"Tm":1.5,"Yb":1.45,"Lu":1.4},
{"s":"c18","La":2.0,"Ce":1.95,"Pr":2.0,"Nd":2.1,"Sm":2.3,"Eu":2.4,"Gd":2.3,"Tb":2.1,"Dy":2.0,"Y":1.55,"Ho":1.7,"Er":1.6,"Tm":1.7,"Yb":1.65,"Lu":1.65}]},
"transform":[{"fold":["La","Ce","Pr","Nd","Sm","Eu","Gd","Tb","Dy","Y","Ho","Er","Tm","Yb","Lu"],"as":["el","v"]}],
"mark":{"type":"line","strokeWidth":1},
"encoding":{
"x":{"field":"el","type":"ordinal","sort":["La","Ce","Pr","Nd","Sm","Eu","Gd","Tb","Dy","Y","Ho","Er","Tm","Yb","Lu"],"scale":{"type":"point","padding":0.5,"domain":["La","Ce","Pr","Nd","Sm","Eu","Gd","Tb","Dy","Y","Ho","Er","Tm","Yb","Lu"]},"axis":{"orient":"bottom","title":null,"labelAngle":0,"tickSize":8,"labelPadding":3}},
"y":{"field":"v","type":"quantitative","scale":{"type":"log","domain":[0.097,19.4],"nice":false},"axis":{"orient":"left","values":[0.1,0.2,0.3,0.4,0.5,0.6,0.7,0.8,0.9,1,2,3,4,5,6,7,8,9,10],"format":"~g","labelExpr":"datum.value===0.1||datum.value===1||datum.value===10 ? datum.label : ''","tickSize":{"condition":{"test":"datum.value===0.1||datum.value===1||datum.value===10","value":9},"value":5},"labelPadding":2,"title":"Sample/UCC","titleFontSize":28,"titleFontWeight":"bold","titleFontStyle":"italic","titlePadding":9}},
"detail":{"field":"s"},
"color":{"datum":"Low-grade anchizone (MOAT formation)","scale":{"range":["#f8862c"]},"legend":{"orient":"none","legendX":144,"legendY":292,"symbolType":"M-1,0.45L0,-0.45L1,0.45","symbolSize":500,"symbolStrokeWidth":1,"symbolFillColor":"transparent"}}}},
{"data":{"values":[{"el":"La","v":1}]},"mark":{"type":"point","opacity":0},
"encoding":{"x":{"field":"el","type":"ordinal","scale":{"type":"point","padding":0.5,"domain":["La","Ce","Pr","Nd","Sm","Eu","Gd","Tb","Dy","Y","Ho","Er","Tm","Yb","Lu"]},"axis":{"orient":"top","title":null,"labels":false,"tickSize":-8}},
"y":{"field":"v","type":"quantitative","scale":{"type":"log","domain":[0.097,19.4],"nice":false},"axis":{"orient":"right","title":null,"labels":false,"values":[0.1,0.2,0.3,0.4,0.5,0.6,0.7,0.8,0.9,1,2,3,4,5,6,7,8,9,10],"tickSize":{"condition":{"test":"datum.value===0.1||datum.value===1||datum.value===10","value":-9},"value":-5}}}}},
{"data":{"values":[{"el":"La","v":14.3,"t":"c"}]},"mark":{"type":"square","size":1900,"color":"#120f12","opacity":1},
"encoding":{"x":{"field":"el","type":"ordinal","scale":{"type":"point","padding":0.5,"domain":["La","Ce","Pr","Nd","Sm","Eu","Gd","Tb","Dy","Y","Ho","Er","Tm","Yb","Lu"]},"axis":null},"y":{"field":"v","type":"quantitative","scale":{"type":"log","domain":[0.097,19.4],"nice":false},"axis":null}}},
{"data":{"values":[{"el":"La","v":14.3,"t":"c"}]},"mark":{"type":"text","color":"white","fontSize":28,"fontWeight":"bold","baseline":"middle","align":"center"},
"encoding":{"x":{"field":"el","type":"ordinal","scale":{"type":"point","padding":0.5,"domain":["La","Ce","Pr","Nd","Sm","Eu","Gd","Tb","Dy","Y","Ho","Er","Tm","Yb","Lu"]},"axis":null},"y":{"field":"v","type":"quantitative","scale":{"type":"log","domain":[0.097,19.4],"nice":false},"axis":null},"text":{"field":"t"}}}
]},
{"width":535,"height":378,
"resolve":{"axis":{"x":"independent","y":"independent"}},
"layer":[
{"data":{"values":[
{"s":"d0","g":"O","La":4.36,"Ce":4.09,"Pr":4.3,"Nd":4.34,"Sm":4.55,"Eu":4.66,"Gd":4.05,"Tb":2.94,"Dy":2.97,"Y":2.22,"Ho":2.24,"Er":1.99,"Tm":2.13,"Yb":2.0,"Lu":1.99},
{"s":"d1","g":"R","La":8.91,"Ce":8.23,"Pr":8.05,"Nd":7.68,"Sm":7.4,"Eu":7.4,"Gd":5.55,"Tb":3.33,"Dy":3.11,"Y":2.05,"Ho":2.15,"Er":2.05,"Tm":2.27,"Yb":1.87,"Lu":2.08},
{"s":"d2","g":"R","La":3.08,"Ce":3.04,"Pr":3.29,"Nd":3.46,"Sm":3.51,"Eu":3.66,"Gd":3.18,"Tb":2.05,"Dy":2.41,"Y":1.91,"Ho":2.12,"Er":1.83,"Tm":1.85,"Yb":1.77,"Lu":1.74},
{"s":"d3","g":"R","La":2.43,"Ce":2.22,"Pr":2.35,"Nd":2.43,"Sm":2.71,"Eu":2.94,"Gd":2.67,"Tb":2.58,"Dy":2.43,"Y":1.93,"Ho":1.84,"Er":1.7,"Tm":1.78,"Yb":1.66,"Lu":1.52},
{"s":"d4","g":"R","La":2.1,"Ce":1.98,"Pr":1.93,"Nd":1.93,"Sm":2.41,"Eu":2.33,"Gd":2.28,"Tb":1.96,"Dy":2.43,"Y":1.91,"Ho":1.99,"Er":1.87,"Tm":1.87,"Yb":1.84,"Lu":1.81},
{"s":"d5","g":"R","La":2.02,"Ce":1.78,"Pr":1.93,"Nd":1.94,"Sm":2.15,"Eu":2.3,"Gd":2.28,"Tb":1.7,"Dy":1.96,"Y":1.85,"Ho":1.83,"Er":1.7,"Tm":1.7,"Yb":1.63,"Lu":1.52},
{"s":"d6","g":"R","La":2.05,"Ce":1.99,"Pr":1.93,"Nd":1.83,"Sm":1.87,"Eu":1.99,"Gd":1.93,"Tb":1.66,"Dy":1.93,"Y":1.63,"Ho":1.6,"Er":1.52,"Tm":1.63,"Yb":1.6,"Lu":1.48},
{"s":"d7","g":"R","La":1.78,"Ce":1.63,"Pr":1.53,"Nd":1.37,"Sm":1.55,"Eu":1.7,"Gd":1.87,"Tb":1.57,"Dy":1.65,"Y":1.52,"Ho":1.48,"Er":1.38,"Tm":1.43,"Yb":1.46,"Lu":1.38},
{"s":"d8","g":"R","La":1.45,"Ce":1.52,"Pr":1.48,"Nd":1.45,"Sm":1.55,"Eu":1.68,"Gd":1.63,"Tb":1.45,"Dy":1.63,"Y":1.32,"Ho":1.35,"Er":1.31,"Tm":1.38,"Yb":1.45,"Lu":1.46},
{"s":"d9","g":"R","La":1.19,"Ce":1.07,"Pr":1.21,"Nd":1.25,"Sm":1.52,"Eu":1.66,"Gd":1.63,"Tb":1.35,"Dy":1.43,"Y":1.2,"Ho":1.27,"Er":1.21,"Tm":1.33,"Yb":1.31,"Lu":1.21},
{"s":"d10","g":"R","La":1.07,"Ce":0.98,"Pr":0.93,"Nd":0.9,"Sm":1.12,"Eu":1.21,"Gd":1.3,"Tb":1.19,"Dy":1.45,"Y":1.21,"Ho":1.15,"Er":1.15,"Tm":1.26,"Yb":1.29,"Lu":1.2},
{"s":"d11","g":"R","La":2.0,"Ce":1.87,"Pr":1.91,"Nd":1.91,"Sm":2.1,"Eu":2.2,"Gd":2.15,"Tb":1.99,"Dy":1.91,"Y":1.78,"Ho":1.76,"Er":1.83,"Tm":1.87,"Yb":1.83,"Lu":1.78},
{"s":"d12","g":"R","La":2.1,"Ce":2.0,"Pr":2.0,"Nd":1.96,"Sm":2.2,"Eu":2.3,"Gd":2.2,"Tb":1.91,"Dy":1.83,"Y":1.38,"Ho":1.45,"Er":1.37,"Tm":1.38,"Yb":1.48,"Lu":1.38}]},
"transform":[{"fold":["La","Ce","Pr","Nd","Sm","Eu","Gd","Tb","Dy","Y","Ho","Er","Tm","Yb","Lu"],"as":["el","v"]}],
"mark":{"type":"line","strokeWidth":1},
"encoding":{
"x":{"field":"el","type":"ordinal","sort":["La","Ce","Pr","Nd","Sm","Eu","Gd","Tb","Dy","Y","Ho","Er","Tm","Yb","Lu"],"scale":{"type":"point","padding":0.5,"domain":["La","Ce","Pr","Nd","Sm","Eu","Gd","Tb","Dy","Y","Ho","Er","Tm","Yb","Lu"]},"axis":{"orient":"bottom","title":null,"labelAngle":0,"tickSize":8,"labelPadding":3}},
"y":{"field":"v","type":"quantitative","scale":{"type":"log","domain":[0.097,19.4],"nice":false},"axis":{"orient":"right","values":[0.1,0.2,0.3,0.4,0.5,0.6,0.7,0.8,0.9,1,2,3,4,5,6,7,8,9,10],"format":"~g","labelExpr":"datum.value===0.1||datum.value===1||datum.value===10 ? datum.label : ''","tickSize":{"condition":{"test":"datum.value===0.1||datum.value===1||datum.value===10","value":9},"value":5},"labelPadding":2,"title":"Sample/UCC","titleFontSize":28,"titleFontWeight":"bold","titleFontStyle":"italic","titleAngle":270,"titleBaseline":"top","titlePadding":8}},
"detail":{"field":"s"},
"color":{"field":"g","type":"nominal","scale":{"domain":["O","R"],"range":["#f7941d","#c8102e"]},"legend":{"orient":"none","legendX":20,"legendY":284,"rowPadding":4,"symbolType":"M-1,0.45L0,-0.45L1,0.45","symbolSize":500,"symbolStrokeWidth":1,"symbolFillColor":"transparent","labelExpr":"datum.label=='O' ? 'Low-grade anchizone (Le Pont d’Aron, UPLO formation)' : 'High-grade anchizone (Le Pont d’Aron, UPLO formation)'"}}}},
{"data":{"values":[{"el":"La","v":1}]},"mark":{"type":"point","opacity":0},
"encoding":{"x":{"field":"el","type":"ordinal","scale":{"type":"point","padding":0.5,"domain":["La","Ce","Pr","Nd","Sm","Eu","Gd","Tb","Dy","Y","Ho","Er","Tm","Yb","Lu"]},"axis":{"orient":"top","title":null,"labels":false,"tickSize":-8}},
"y":{"field":"v","type":"quantitative","scale":{"type":"log","domain":[0.097,19.4],"nice":false},"axis":{"orient":"left","title":null,"labels":false,"values":[0.1,0.2,0.3,0.4,0.5,0.6,0.7,0.8,0.9,1,2,3,4,5,6,7,8,9,10],"tickSize":{"condition":{"test":"datum.value===0.1||datum.value===1||datum.value===10","value":-9},"value":-5}}}}},
{"data":{"values":[{"el":"La","v":14.2,"t":"d"}]},"mark":{"type":"square","size":1764,"color":"#120f12","opacity":1},
"encoding":{"x":{"field":"el","type":"ordinal","scale":{"type":"point","padding":0.5,"domain":["La","Ce","Pr","Nd","Sm","Eu","Gd","Tb","Dy","Y","Ho","Er","Tm","Yb","Lu"]},"axis":null},"y":{"field":"v","type":"quantitative","scale":{"type":"log","domain":[0.097,19.4],"nice":false},"axis":null}}},
{"data":{"values":[{"el":"La","v":14.2,"t":"d"}]},"mark":{"type":"text","color":"white","fontSize":28,"fontWeight":"bold","baseline":"middle","align":"center"},
"encoding":{"x":{"field":"el","type":"ordinal","scale":{"type":"point","padding":0.5,"domain":["La","Ce","Pr","Nd","Sm","Eu","Gd","Tb","Dy","Y","Ho","Er","Tm","Yb","Lu"]},"axis":null},"y":{"field":"v","type":"quantitative","scale":{"type":"log","domain":[0.097,19.4],"nice":false},"axis":null},"text":{"field":"t"}}}
]}
],"spacing":35,"bounds":"flush","resolve":{"scale":{"color":"independent"}}}
],"spacing":23,"resolve":{"scale":{"color":"independent"}}},
{"width":1100,"height":384,
"resolve":{"scale":{"x":"independent","color":"independent"},"axis":{"x":"independent","y":"independent"}},
"layer":[
{"data":{"values":[{}]},"mark":{"type":"rule","color":"#bdbdbd","strokeWidth":2.5,"strokeDash":[12,7]},
"encoding":{"x":{"datum":1305,"type":"quantitative","scale":{"domain":[55,2634.7],"nice":false,"zero":false},"axis":null}}},
{"data":{"values":[{"r":15,"n":"Haute Cavausais"},{"r":13,"n":"Saint Sulpice des Landes"},{"r":11,"n":"La Primaudais"},{"r":10,"n":"Villeray"},{"r":9,"n":"Chère / La Praie"},{"r":7,"n":"Cherhal / Hôtel Ferré / La Coquinais / Villeray"},{"r":6,"n":"Gras Richomme / Cherhal / La Glévardais"},{"r":5,"n":"Branfeul / La Bréharais / La Derré / La Grée Fossé"},{"r":4,"n":"Gras Richomme"},{"r":3,"n":"Branfeul / La Glévardais"},{"r":1,"n":"La Monnerie / Le Moulin de Cherhal / Le Pont des îles"},{"r":0,"n":"Le Pont d’Aron"}]},
"layer":[
{"mark":{"type":"rule","color":"#555","strokeWidth":1,"strokeDash":[2,2]},
"encoding":{"x":{"datum":1310,"type":"quantitative","scale":{"domain":[55,2634.7],"nice":false,"zero":false},"axis":null},"x2":{"datum":1382},"y":{"field":"r","type":"quantitative","scale":{"domain":[-0.58,18],"nice":false,"zero":false},"axis":null}}},
{"mark":{"type":"point","shape":"M-1,-0.55L1,0L-1,0.55L-0.5,0Z","filled":true,"opacity":1,"size":320,"color":"#111"},
"encoding":{"x":{"datum":1394,"type":"quantitative","scale":{"domain":[55,2634.7],"nice":false,"zero":false},"axis":null},"y":{"field":"r","type":"quantitative","scale":{"domain":[-0.58,18],"nice":false,"zero":false},"axis":null}}},
{"mark":{"type":"text","align":"left","baseline":"middle","fontSize":17,"color":"#231f20"},
"encoding":{"x":{"datum":1422,"type":"quantitative","scale":{"domain":[55,2634.7],"nice":false,"zero":false},"axis":null},"y":{"field":"r","type":"quantitative","scale":{"domain":[-0.58,18],"nice":false,"zero":false},"axis":null},"text":{"field":"n"}}}
]},
{"data":{"values":[{"r":13,"lo":0.236,"hi":0.29},{"r":9,"lo":0.329,"hi":0.556},{"r":7,"lo":0.275,"hi":0.48},{"r":6,"lo":0.197,"hi":0.517},{"r":5,"lo":0.238,"hi":1.027},{"r":3,"lo":0.292,"hi":0.417},{"r":1,"lo":0.204,"hi":0.448},{"r":0,"lo":0.177,"hi":0.323}]},
"layer":[
{"mark":{"type":"rule","color":"#333","strokeWidth":1},
"encoding":{"x":{"field":"lo","type":"quantitative","scale":{"domain":[0,2.4765],"nice":false,"zero":false},"axis":null},"x2":{"field":"hi"},"y":{"field":"r","type":"quantitative","scale":{"domain":[-0.58,18],"nice":false,"zero":false},"axis":null}}},
{"transform":[{"fold":["lo","hi"],"as":["end","cv"]}],
"mark":{"type":"tick","orient":"vertical","color":"#333","size":11,"thickness":1.2},
"encoding":{"x":{"field":"cv","type":"quantitative","scale":{"domain":[0,2.4765],"nice":false,"zero":false},"axis":null},"y":{"field":"r","type":"quantitative","scale":{"domain":[-0.58,18],"nice":false,"zero":false},"axis":null}}}
]},
{"data":{"values":[
{"r":15,"v":454,"g":"G"},{"r":13,"v":295,"g":"G"},{"r":13,"v":310,"g":"G"},{"r":13,"v":335,"g":"G"},{"r":13,"v":372,"g":"G"},{"r":11,"v":335,"g":"G"},{"r":10,"v":263,"g":"G"},{"r":9,"v":335,"g":"G"},{"r":9,"v":345,"g":"G"},{"r":9,"v":360,"g":"G"},{"r":9,"v":370,"g":"G"},
{"r":7,"v":287,"g":"G"},{"r":7,"v":300,"g":"G"},{"r":7,"v":315,"g":"G"},{"r":7,"v":325,"g":"G"},{"r":7,"v":335,"g":"G"},{"r":7,"v":345,"g":"G"},{"r":7,"v":360,"g":"G"},{"r":7,"v":375,"g":"G"},{"r":7,"v":392,"g":"G"},{"r":7,"v":409,"g":"G"},{"r":7,"v":456,"g":"G"},
{"r":6,"v":258,"g":"G"},{"r":6,"v":275,"g":"G"},{"r":6,"v":292,"g":"G"},{"r":6,"v":365,"g":"G"},{"r":6,"v":375,"g":"G"},{"r":6,"v":329,"g":"O"},{"r":6,"v":400,"g":"O"},{"r":6,"v":406,"g":"O"},
{"r":5,"v":303,"g":"O"},{"r":5,"v":320,"g":"O"},{"r":5,"v":335,"g":"O"},{"r":5,"v":379,"g":"O"},{"r":5,"v":396,"g":"O"},{"r":5,"v":418,"g":"O"},{"r":5,"v":432,"g":"O"},{"r":5,"v":446,"g":"O"},
{"r":4,"v":270,"g":"O"},
{"r":3,"v":320,"g":"O"},{"r":3,"v":335,"g":"O"},{"r":3,"v":350,"g":"O"},{"r":3,"v":360,"g":"O"},{"r":3,"v":405,"g":"O"},{"r":3,"v":418,"g":"O"},
{"r":1,"v":287,"g":"O"},{"r":1,"v":330,"g":"O"},{"r":1,"v":345,"g":"O"},{"r":1,"v":386,"g":"O"},{"r":1,"v":400,"g":"O"},{"r":1,"v":552,"g":"O"},{"r":1,"v":357,"g":"R"},
{"r":0,"v":186,"g":"R"},{"r":0,"v":228,"g":"R"},{"r":0,"v":247,"g":"R"},{"r":0,"v":284,"g":"R"},{"r":0,"v":320,"g":"R"},{"r":0,"v":335,"g":"R"},{"r":0,"v":396,"g":"R"},{"r":0,"v":663,"g":"R"},{"r":0,"v":1198,"g":"R"}]},
"mark":{"type":"square","size":140,"filled":true,"opacity":1,"stroke":"white","strokeWidth":0.8},
"encoding":{
"x":{"field":"v","type":"quantitative","scale":{"domain":[55,2634.7],"nice":false,"zero":false},"axis":{"orient":"bottom","values":[100,150,200,250,300,350,400,450,500,550,600,650,700,750,800,850,900,950,1000,1050,1100,1150,1200,1250,1300],"format":"d","labelExpr":"datum.value%200===0 ? datum.label : ''","tickSize":{"condition":{"test":"datum.value%200===0","value":9},"value":5},"labelFontSize":21,"labelPadding":3,"title":"Σ REE+Y  (g/t)","titleX":262,"titleFontSize":27,"titleFontWeight":"bold","titleFontStyle":"italic","titlePadding":4}},
"y":{"field":"r","type":"quantitative","scale":{"domain":[-0.58,18],"nice":false,"zero":false},"axis":{"orient":"left","values":[0,1,2,3,4,5,6,7,8,9,10,11,12,13,14,15,16,17,18],"labelExpr":"datum.value%2===0 ? datum.label : ''","tickSize":{"condition":{"test":"datum.value%2===0","value":8},"value":4},"labelFontSize":21,"labelPadding":2,"title":"Stratigraphic sequence number ──► Top","titleFontSize":17,"titleFontWeight":"bold","titlePadding":28}},
"color":{"field":"g","type":"nominal","scale":{"domain":["G","O","R"],"range":["#4cac44","#fc8621","#c30e2e"]},"legend":{"orient":"none","legendX":850,"legendY":45,"symbolType":"square","symbolSize":120,"labelFontSize":17,"rowPadding":1,"labelExpr":"datum.label=='G' ? 'High-grade diagenesis' : datum.label=='O' ? 'Low-grade anchizone' : 'High-grade anchizone'"}}}},
{"data":{"values":[{"r":15,"c":0.171},{"r":13,"c":0.262},{"r":11,"c":0.702},{"r":10,"c":0.292},{"r":9,"c":0.442},{"r":7,"c":0.379},{"r":6,"c":0.357},{"r":5,"c":0.633},{"r":4,"c":0.173},{"r":3,"c":0.354},{"r":1,"c":0.326},{"r":0,"c":0.248}]},
"mark":{"type":"point","shape":"triangle-up","filled":true,"opacity":1,"size":75,"color":"#111","stroke":"white","strokeWidth":0.6},
"encoding":{
"x":{"field":"c","type":"quantitative","scale":{"domain":[0,2.4765],"nice":false,"zero":false},"axis":{"orient":"top","values":[0,0.05,0.1,0.15,0.2,0.25,0.3,0.35,0.4,0.45,0.5,0.55,0.6,0.65,0.7,0.75,0.8,0.85,0.9,0.95,1,1.05,1.1,1.15,1.2],"labelExpr":"round(datum.value*20)%2===0 ? replace(format(datum.value,'.1f'),'.',',') : ''","tickSize":{"condition":{"test":"round(datum.value*20)%2===0","value":8},"value":4},"labelFontSize":21,"labelPadding":3,"title":"▴  Total Carbon (wt. %)","titleX":275,"titleFontSize":27,"titleFontWeight":"bold","titleFontStyle":"italic","titlePadding":8}},
"y":{"field":"r","type":"quantitative","scale":{"domain":[-0.58,18],"nice":false,"zero":false},"axis":{"orient":"right","values":[0,1,2,3,4,5,6,7,8,9,10,11,12,13,14,15,16,17,18],"labelExpr":"datum.value%2===0 ? datum.label : ''","tickSize":{"condition":{"test":"datum.value%2===0","value":8},"value":4},"labelFontSize":21,"labelPadding":2,"title":null}}}},
{"data":{"values":[{}]},"mark":{"type":"square","size":130,"color":"#c30e2e","opacity":1},
"encoding":{"x":{"datum":306,"type":"quantitative","scale":{"domain":[55,2634.7],"nice":false,"zero":false},"axis":null},"y":{"datum":-3.15,"type":"quantitative","scale":{"domain":[-0.58,18],"nice":false,"zero":false},"axis":null}}},
{"data":{"values":[{}]},"mark":{"type":"square","size":130,"color":"#fc8621","opacity":1},
"encoding":{"x":{"datum":346,"type":"quantitative","scale":{"domain":[55,2634.7],"nice":false,"zero":false},"axis":null},"y":{"datum":-3.15,"type":"quantitative","scale":{"domain":[-0.58,18],"nice":false,"zero":false},"axis":null}}},
{"data":{"values":[{}]},"mark":{"type":"square","size":130,"color":"#4cac44","opacity":1},
"encoding":{"x":{"datum":393,"type":"quantitative","scale":{"domain":[55,2634.7],"nice":false,"zero":false},"axis":null},"y":{"datum":-3.15,"type":"quantitative","scale":{"domain":[-0.58,18],"nice":false,"zero":false},"axis":null}}},
{"data":{"values":[{}]},"mark":{"type":"square","size":1890,"color":"#120f12","opacity":1},
"encoding":{"x":{"datum":104,"type":"quantitative","scale":{"domain":[55,2634.7],"nice":false,"zero":false},"axis":null},"y":{"datum":16.84,"type":"quantitative","scale":{"domain":[-0.58,18],"nice":false,"zero":false},"axis":null}}},
{"data":{"values":[{"t":"e"}]},"mark":{"type":"text","color":"white","fontSize":28,"fontWeight":"bold","baseline":"middle","align":"center"},
"encoding":{"x":{"datum":104,"type":"quantitative","scale":{"domain":[55,2634.7],"nice":false,"zero":false},"axis":null},"y":{"datum":16.84,"type":"quantitative","scale":{"domain":[-0.58,18],"nice":false,"zero":false},"axis":null},"text":{"field":"t"}}}
]}
]
}
